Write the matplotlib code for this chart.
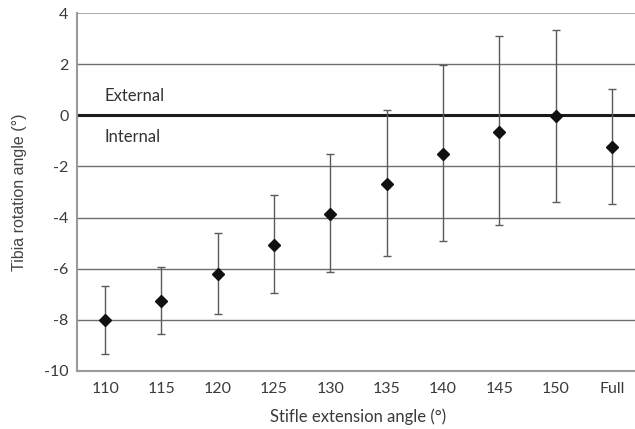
import matplotlib
matplotlib.use("Agg")
import matplotlib.pyplot as plt
import numpy as np

categories = ["110", "115", "120", "125", "130", "135", "140", "145", "150", "Full"]
means = [-8.00, -7.25, -6.19, -5.06, -3.85, -2.69, -1.53, -0.65, -0.04, -1.24]
upper = [-6.68, -5.92, -4.59, -3.10, -1.51, 0.22, 1.96, 3.10, 3.35, 1.04]
lower = [-9.35, -8.55, -7.76, -6.95, -6.13, -5.50, -4.93, -4.29, -3.40, -3.47]
yticks = [-10, -8, -6, -4, -2, 0, 2, 4]

plt.rcParams['font.family'] = ['Lato', 'DejaVu Sans']
plt.rcParams['axes.unicode_minus'] = False

fig = plt.figure(figsize=(6.35, 4.29), dpi=100)
W, H = 635, 429
ax = fig.add_axes([77 / W, (H - 371) / H, (640 - 77) / W, 358 / H])

x = np.arange(len(categories))
m = np.array(means)
yerr = np.vstack([m - np.array(lower), np.array(upper) - m])

for yv in yticks:
    if yv == -10:
        continue
    if yv == 0:
        ax.axhline(0, color='#1a1a1a', lw=2.2, zorder=2)
    elif yv == 4:
        ax.axhline(yv, color='#9a9a9a', lw=1.2, zorder=1)
    else:
        ax.axhline(yv, color='#6e6e6e', lw=1.0, zorder=1)

ax.errorbar(x, m, yerr=yerr, fmt='none', ecolor='#5a5a5a', elinewidth=1.0,
            capsize=3, capthick=1.0, zorder=3)
ax.plot(x, m, linestyle='none', marker='D', color='#111111', markersize=6, zorder=4)

ax.set_xlim(-0.5, len(categories) - 0.5)
ax.set_ylim(-10, 4)
ax.set_xticks(x)
ax.set_xticklabels(categories)
ax.set_yticks(yticks)
ax.tick_params(axis='both', length=0, labelsize=11.5, colors='#3a3a3a')
ax.tick_params(axis='x', pad=8)
ax.tick_params(axis='y', pad=6)

for s in ['top', 'right']:
    ax.spines[s].set_visible(False)
for s in ['left', 'bottom']:
    ax.spines[s].set_color('#9a9a9a')
    ax.spines[s].set_linewidth(1.5)

ax.set_xlabel("Stifle extension angle (°)", fontsize=12, color='#3a3a3a', labelpad=9)
ax.set_ylabel("Tibia rotation angle (°)", fontsize=11.5, color='#444444', labelpad=12,
              family=['Liberation Sans', 'DejaVu Sans'])

ax.text(-0.02, 0.75, "External", fontsize=12, color='#333333', va='center', ha='left')
ax.text(-0.02, -0.85, "Internal", fontsize=12, color='#333333', va='center', ha='left')

fig.savefig("out.png", dpi=100)
